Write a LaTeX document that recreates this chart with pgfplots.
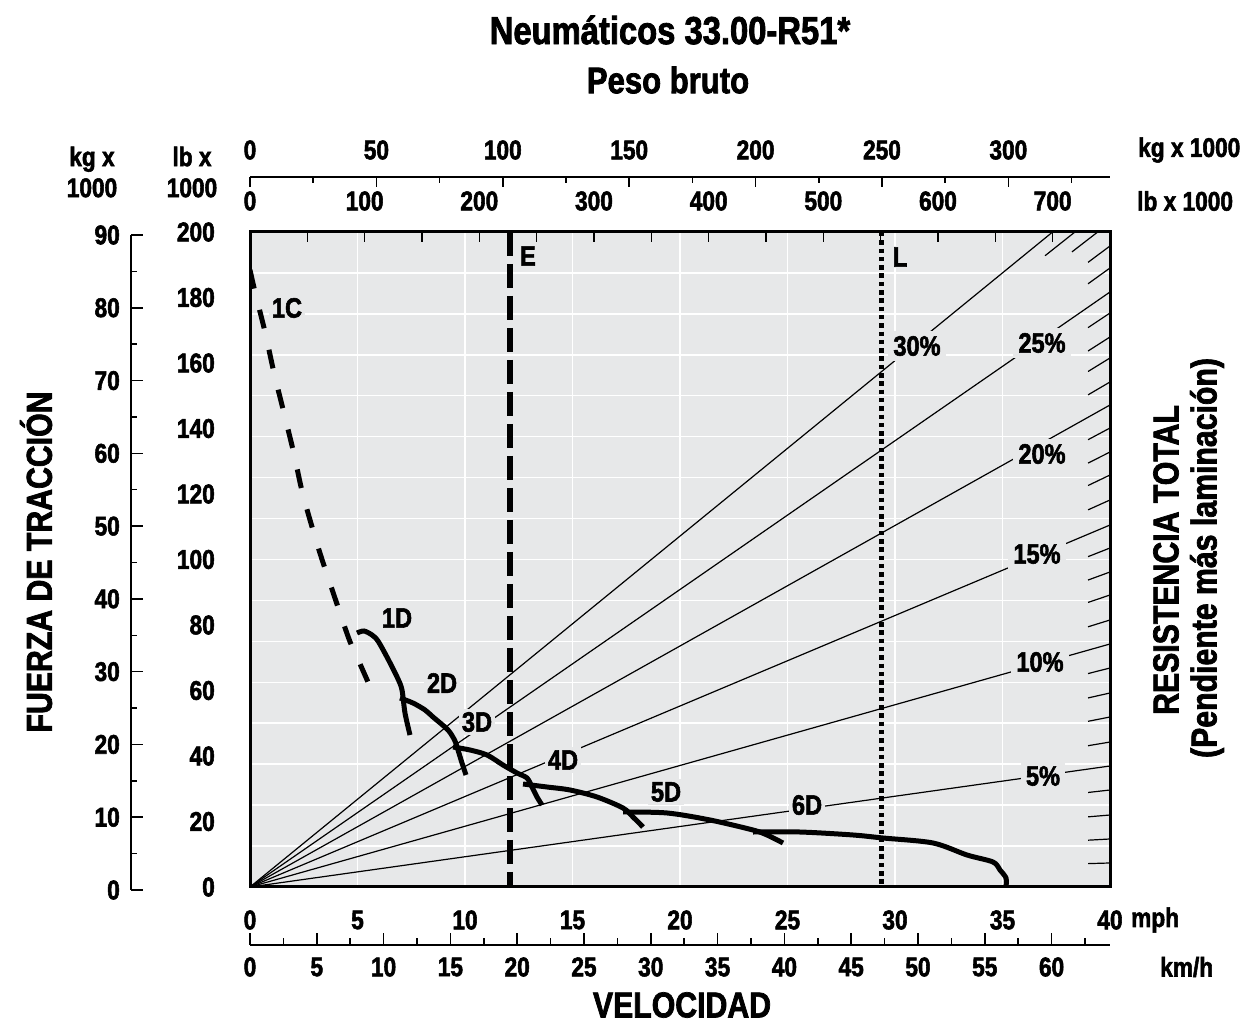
\documentclass[border=0pt]{standalone}
\usepackage{fontspec}
\setmainfont{Liberation Sans}[FakeStretch=0.84, BoldFeatures={FakeBold=2}]
\usepackage{pgfplots}
\pgfplotsset{compat=1.18}
\definecolor{bg}{HTML}{E7E8E9}
\newcommand{\fs}[1]{\fontsize{#1}{#1}\selectfont\bfseries}

\begin{document}
\begin{tikzpicture}
\path[use as bounding box] (0pt,0pt) rectangle (1243pt,1034pt);

% top scale: kg x 1000 (gross weight)
\begin{axis}[
  at={(250pt,857pt)}, anchor=north west,
  width=860pt, height=10pt, scale only axis,
  xmin=0, xmax=340.2, ymin=0, ymax=1,
  axis x line=top, axis y line=none,
  axis line style={-, line width=1.5pt},
  tick align=inside,
  xtick={0,50,100,150,200,250,300},
  xticklabels={0,50,100,150,200,250,300},
  minor xtick={25,75,125,175,225,275,325},
  major tick length=10pt, minor tick length=6pt,
  every tick/.style={black, line width=1.5pt},
  xticklabel style={anchor=center, yshift=27pt, font=\fs{27pt}},
]
\end{axis}

% main chart: speed (mph) vs rimpull (lb x 1000)
\begin{axis}[
  at={(250pt,147pt)}, anchor=south west,
  width=860pt, height=655pt, scale only axis,
  xmin=0, xmax=40, ymin=0, ymax=200,
  axis background/.style={fill=bg},
  axis line style={line width=3pt},
  xtick={0,5,10,15,20,25,30,35,40},
  xticklabels={0,5,10,15,20,25,30,35,40},
  ytick={0,20,40,60,80,100,120,140,160,180,200},
  yticklabels={0,20,40,60,80,100,120,140,160,180,200},
  minor ytick={12.5,25,...,187.5},
  xmajorgrids, yminorgrids,
  major grid style={white, line width=1.5pt},
  minor grid style={white, line width=1.5pt},
  major tick length=0pt, minor tick length=0pt,
  xticklabel style={anchor=center, yshift=-33pt, font=\fs{27pt}},
  yticklabel style={anchor=east, inner sep=0pt, xshift=-35pt, font=\fs{27pt}},
]
% total resistance lines (5% steps)
\addplot[black, line width=1.2pt] coordinates {(0,0) (40,36.95)};
\addplot[black, line width=1.2pt] coordinates {(0,0) (40,74.20)};
\addplot[black, line width=1.2pt] coordinates {(0,0) (40,110.53)};
\addplot[black, line width=1.2pt] coordinates {(0,0) (40,147.18)};
\addplot[black, line width=1.2pt] coordinates {(0,0) (40,181.68)};
\addplot[black, line width=1.2pt] coordinates {(0,0) (40,214.3)};
% 1% hatches at the right edge
\addplot[black, line width=1.2pt] coordinates {(38.98,7.14) (40,7.33)};
\addplot[black, line width=1.2pt] coordinates {(38.98,14.29) (40,14.66)};
\addplot[black, line width=1.2pt] coordinates {(38.98,21.42) (40,21.98)};
\addplot[black, line width=1.2pt] coordinates {(38.98,28.86) (40,29.62)};
\addplot[black, line width=1.2pt] coordinates {(38.98,43.14) (40,44.27)};
\addplot[black, line width=1.2pt] coordinates {(38.98,50.59) (40,51.91)};
\addplot[black, line width=1.2pt] coordinates {(38.98,57.73) (40,59.24)};
\addplot[black, line width=1.2pt] coordinates {(38.98,65.17) (40,66.87)};
\addplot[black, line width=1.2pt] coordinates {(38.98,79.45) (40,81.53)};
\addplot[black, line width=1.2pt] coordinates {(38.98,86.89) (40,89.16)};
\addplot[black, line width=1.2pt] coordinates {(38.98,93.73) (40,96.18)};
\addplot[black, line width=1.2pt] coordinates {(38.98,100.87) (40,103.51)};
\addplot[black, line width=1.2pt] coordinates {(38.98,115.16) (40,118.17)};
\addplot[black, line width=1.2pt] coordinates {(38.98,122.59) (40,125.80)};
\addplot[black, line width=1.2pt] coordinates {(38.98,129.43) (40,132.82)};
\addplot[black, line width=1.2pt] coordinates {(38.98,136.58) (40,140.15)};
\addplot[black, line width=1.2pt] coordinates {(38.98,150.27) (40,154.20)};
\addplot[black, line width=1.2pt] coordinates {(38.98,157.41) (40,161.53)};
\addplot[black, line width=1.2pt] coordinates {(38.98,163.66) (40,167.94)};
\addplot[black, line width=1.2pt] coordinates {(38.98,170.80) (40,175.27)};
\addplot[black, line width=1.2pt] coordinates {(38.98,184.19) (40,189.01)};
\addplot[black, line width=1.2pt] coordinates {(38.98,190.74) (40,195.73)};
\addplot[black, line width=1.2pt] coordinates {(38.23,193.92) (40,202.9)};
\addplot[black, line width=1.2pt] coordinates {(36.98,192.76) (40,208.5)};
% E and L limits
\addplot[black, line width=6pt, dash pattern=on 24pt off 8pt] coordinates {(12.07,200) (12.07,0)};
\addplot[black, line width=5pt, dash pattern=on 4.5pt off 3.8pt] coordinates {(29.37,200) (29.37,0)};
\end{axis}

% top scale: lb x 1000 labels and inner ticks
\begin{axis}[
  at={(250pt,147pt)}, anchor=south west,
  width=860pt, height=655pt, scale only axis,
  xmin=0, xmax=750, ymin=0, ymax=1,
  axis x line=top, axis y line=none,
  axis line style={draw=none},
  tick align=inside,
  xtick={0,50,100,150,200,250,300,350,400,450,500,550,600,650,700},
  xticklabels={0,,100,,200,,300,,400,,500,,600,,700},
  major tick length=10pt,
  every tick/.style={black, line width=1.5pt},
  xticklabel style={anchor=center, yshift=31pt, font=\fs{27pt}},
]
\end{axis}

% left scale: kg x 1000
\begin{axis}[
  at={(131pt,144pt)}, anchor=south west,
  width=20pt, height=655pt, scale only axis,
  xmin=0, xmax=1, ymin=0, ymax=90,
  axis y line=left, axis x line=none,
  axis line style={-, line width=1.5pt},
  tick align=inside,
  ytick={0,10,20,30,40,50,60,70,80,90},
  yticklabels={0,10,20,30,40,50,60,70,80,90},
  minor ytick={5,15,25,35,45,55,65,75,85},
  major tick length=12pt, minor tick length=6pt,
  every tick/.style={black, line width=1.5pt},
  yticklabel style={anchor=east, inner sep=0pt, xshift=-11pt, font=\fs{27pt}},
]
\end{axis}

% bottom scale: km/h
\begin{axis}[
  at={(250pt,89pt)}, anchor=south west,
  width=860pt, height=10pt, scale only axis,
  xmin=0, xmax=64.3736, ymin=0, ymax=1,
  axis x line=bottom, axis y line=none,
  axis line style={-, line width=1.5pt},
  tick align=inside,
  xtick={0,5,10,15,20,25,30,35,40,45,50,55,60},
  xticklabels={0,5,10,15,20,25,30,35,40,45,50,55,60},
  minor xtick={2.5,7.5,12.5,17.5,22.5,27.5,32.5,37.5,42.5,47.5,52.5,57.5,62.5},
  major tick length=12pt, minor tick length=7pt,
  every tick/.style={black, line width=1.5pt},
  xticklabel style={anchor=center, yshift=-22pt, font=\fs{27pt}},
]
\end{axis}

% labels on the chart
\begin{scope}[every node/.style={fill=bg, inner sep=3pt, font=\fs{28pt}}]
\node at (287pt,726pt) {1C};
\node at (397pt,416pt) {1D};
\node at (442pt,351pt) {2D};
\node at (477pt,312pt) {3D};
\node at (563pt,274pt) {4D};
\node at (666pt,242pt) {5D};
\node at (807pt,229pt) {6D};
\node[inner sep=1pt] at (528pt,778pt) {E};
\node[inner sep=1pt] at (900pt,777pt) {L};
\node[inner sep=5pt] at (917pt,688pt) {30\%};
\node[inner sep=5pt] at (1042pt,691pt) {25\%};
\node[inner sep=5pt] at (1042pt,580pt) {20\%};
\node[inner sep=5pt] at (1037pt,480pt) {15\%};
\node[inner sep=5pt] at (1040pt,372pt) {10\%};
\node[inner sep=5pt] at (1043pt,258pt) {5\%};
\end{scope}

% rimpull curves drawn over the labels' boxes
\begin{axis}[
  at={(250pt,147pt)}, anchor=south west,
  width=860pt, height=655pt, scale only axis,
  xmin=0, xmax=40, ymin=0, ymax=200,
  hide axis,
]
\addplot[black, line width=5pt, dash pattern=on 19pt off 22pt, smooth] coordinates {
  (0,188.4) (0.233,181.7) (0.698,169.5) (1.116,157.0) (1.581,144.7) (2.047,132.2)
  (2.465,119.7) (3.209,102.9) (3.953,88.2) (4.605,75.7) (4.977,70.2) (5.488,62.6)};
\addplot[black, line width=5pt, smooth] coordinates {
  (4.977,77.56) (5.302,78.17) (5.674,76.95) (5.953,75.11) (6.419,69.62)
  (6.884,63.51) (7.070,60.15) (7.209,53.13) (7.442,46.41)};
\addplot[black, line width=5pt, smooth] coordinates {
  (6.977,57.71) (7.581,56.18) (8.140,54.05) (8.512,51.91) (9.209,47.94)
  (9.535,44.58) (9.674,41.83) (9.860,37.86) (10.047,34.20)};
\addplot[black, line width=5pt, smooth] coordinates {
  (9.442,42.75) (10.233,41.83) (11.023,40.31) (11.767,37.25) (12.419,34.81)
  (12.884,33.28) (13.116,30.53) (13.349,27.48) (13.581,25.04)};
\addplot[black, line width=5pt, smooth] coordinates {
  (12.698,31.45) (13.814,30.53) (14.884,29.62) (16.140,27.48) (17.349,24.12)
  (17.814,21.37) (18.279,18.32)};
\addplot[black, line width=5pt, smooth] coordinates {
  (17.349,22.90) (19.395,22.60) (21.395,20.46) (23.395,17.40) (24.047,15.88)
  (24.791,13.44)};
\addplot[black, line width=5pt, smooth] coordinates {
  (23.395,16.79) (25.581,16.79) (28.047,15.88) (29.442,14.96) (31.767,13.44)
  (33.349,9.77) (34.558,7.63) (34.884,5.19) (35.163,2.75) (35.163,0)};
\end{axis}

% titles and scale names
\node[font=\fs{39pt}] at (670pt,1004pt) {Neumáticos 33.00-R51*};
\node[font=\fs{37pt}] at (668pt,954pt) {Peso bruto};
\node[font=\fs{36pt}, rotate=90] at (36pt,472pt) {FUERZA DE TRACCIÓN};
\node[font=\fs{36pt}, rotate=90] at (1166pt,474pt) {RESISTENCIA TOTAL};
\node[font=\fs{36pt}, rotate=90] at (1207pt,476pt) {(Pendiente más laminación)};
\node[font=\fs{36pt}] at (682pt,29pt) {VELOCIDAD};
\node[font=\fs{27pt}, align=center] at (92pt,862pt) {kg x\\[4pt]1000};
\node[font=\fs{27pt}, align=center] at (192pt,862pt) {lb x\\[4pt]1000};
\node[font=\fs{27pt}, anchor=west, inner sep=0pt] at (1138pt,884pt) {kg x 1000};
\node[font=\fs{27pt}, anchor=west, inner sep=0pt] at (1137pt,833pt) {lb x 1000};
\node[font=\fs{27pt}, anchor=west, inner sep=0pt] at (1131pt,114pt) {mph};
\node[font=\fs{27pt}, anchor=west, inner sep=0pt] at (1160pt,67pt) {km/h};
\end{tikzpicture}
\end{document}
